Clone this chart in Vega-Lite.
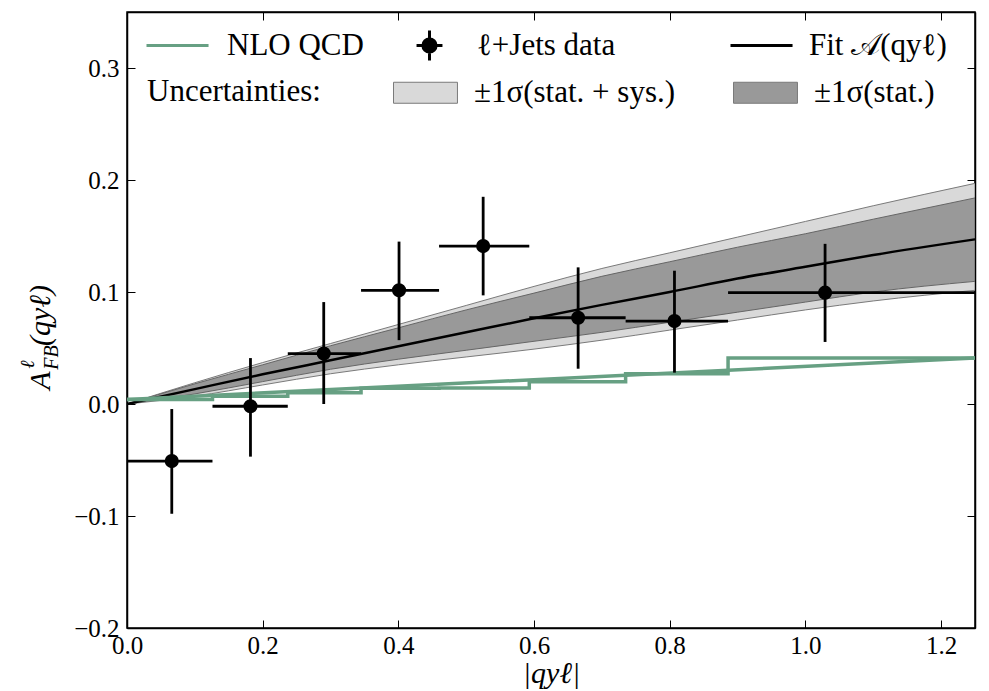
{
  "$schema": "https://vega.github.io/schema/vega-lite/v6.json",
  "width": 848,
  "height": 616,
  "autosize": {"type": "none"},
  "padding": {"left": 127, "top": 12, "right": 14, "bottom": 63},
  "background": "white",
  "config": {
    "view": {"stroke": "black", "strokeWidth": 1.5},
    "font": "Liberation Serif",
    "axis": {
      "labelFont": "Liberation Serif",
      "titleFont": "Liberation Serif",
      "labelColor": "black",
      "titleColor": "black",
      "domainColor": "black",
      "domainWidth": 1.5,
      "tickColor": "black",
      "tickWidth": 1,
      "tickSize": -8,
      "grid": false,
      "labelFlush": false,
      "labelFontSize": 25
    },
    "legend": {
      "labelFont": "Liberation Serif",
      "labelFontSize": 31,
      "labelColor": "black",
      "labelLimit": 600,
      "titleFont": "Liberation Serif",
      "titleFontSize": 31,
      "titleFontWeight": "normal",
      "titleColor": "black",
      "symbolSize": 576,
      "symbolOpacity": 1,
      "orient": "none"
    }
  },
  "datasets": {
    "bands": [
      {"x": 0, "olo": 0, "ilo": 0, "fit": 0, "ihi": 0, "ohi": 0},
      {"x": 0.1, "olo": 0.007, "ilo": 0.009, "fit": 0.0133, "ihi": 0.018, "ohi": 0.019},
      {"x": 0.2, "olo": 0.017, "ilo": 0.02, "fit": 0.0265, "ihi": 0.035, "ohi": 0.037},
      {"x": 0.3, "olo": 0.027, "ilo": 0.031, "fit": 0.039, "ihi": 0.052, "ohi": 0.054},
      {"x": 0.4, "olo": 0.035, "ilo": 0.04, "fit": 0.0515, "ihi": 0.068, "ohi": 0.071},
      {"x": 0.5, "olo": 0.042, "ilo": 0.048, "fit": 0.064, "ihi": 0.084, "ohi": 0.088},
      {"x": 0.6, "olo": 0.049, "ilo": 0.056, "fit": 0.0765, "ihi": 0.099, "ohi": 0.105},
      {"x": 0.7, "olo": 0.057, "ilo": 0.064, "fit": 0.0885, "ihi": 0.114, "ohi": 0.121},
      {"x": 0.8, "olo": 0.066, "ilo": 0.073, "fit": 0.1, "ihi": 0.127, "ohi": 0.135},
      {"x": 0.9, "olo": 0.075, "ilo": 0.082, "fit": 0.112, "ihi": 0.14, "ohi": 0.149},
      {"x": 1.0, "olo": 0.084, "ilo": 0.091, "fit": 0.1225, "ihi": 0.152, "ohi": 0.163},
      {"x": 1.1, "olo": 0.092, "ilo": 0.1, "fit": 0.133, "ihi": 0.165, "ohi": 0.177},
      {"x": 1.25, "olo": 0.1015, "ilo": 0.1095, "fit": 0.147, "ihi": 0.184, "ohi": 0.197}
    ],
    "nloStep": [
      {"x": 0, "y": 0.004},
      {"x": 0.126, "y": 0.007},
      {"x": 0.237, "y": 0.01},
      {"x": 0.345, "y": 0.014},
      {"x": 0.46, "y": 0.0143},
      {"x": 0.593, "y": 0.0198},
      {"x": 0.735, "y": 0.027},
      {"x": 0.886, "y": 0.041},
      {"x": 1.25, "y": 0.041}
    ],
    "nloDiag": [
      {"x": 0, "y": 0.004},
      {"x": 1.25, "y": 0.041}
    ],
    "pts": [
      {"x": 0.066, "xlo": 0, "xhi": 0.126, "y": -0.051, "ylo": -0.098, "yhi": -0.0045},
      {"x": 0.182, "xlo": 0.126, "xhi": 0.237, "y": -0.002, "ylo": -0.047, "yhi": 0.041},
      {"x": 0.29, "xlo": 0.237, "xhi": 0.345, "y": 0.045, "ylo": 0.0, "yhi": 0.091},
      {"x": 0.401, "xlo": 0.345, "xhi": 0.46, "y": 0.1015, "ylo": 0.057, "yhi": 0.145},
      {"x": 0.525, "xlo": 0.46, "xhi": 0.593, "y": 0.141, "ylo": 0.097, "yhi": 0.185},
      {"x": 0.665, "xlo": 0.593, "xhi": 0.735, "y": 0.077, "ylo": 0.0315, "yhi": 0.122},
      {"x": 0.807, "xlo": 0.735, "xhi": 0.886, "y": 0.074, "ylo": 0.028, "yhi": 0.119},
      {"x": 1.029, "xlo": 0.886, "xhi": 1.25, "y": 0.0994, "ylo": 0.0554, "yhi": 0.143}
    ],
    "legNlo": [{"item": "NLO QCD"}],
    "legData": [{"item": "ℓ+Jets data"}],
    "legFit": [{"item": "Fit 𝒜(qyℓ)"}],
    "legUnc": [{"item": "±1σ(stat. + sys.)"}, {"item": "±1σ(stat.)"}]
  },
  "resolve": {"axis": {"x": "independent", "y": "independent"}},
  "layer": [
    {
      "data": {"name": "bands"},
      "mark": {"type": "area", "fill": "#d9d9d9", "stroke": "#7a7a7a", "strokeWidth": 1, "interpolate": "monotone", "clip": true},
      "encoding": {
        "x": {"field": "x", "type": "quantitative", "scale": {"domain": [0, 1.25], "nice": false, "zero": false},
          "axis": {"orient": "bottom", "values": [0, 0.2, 0.4, 0.6, 0.8, 1.0, 1.2], "format": ".1f", "labelPadding": 13,
            "title": "|qyℓ|", "titleFontSize": 30, "titleFontStyle": "italic", "titleFontWeight": "normal", "titlePadding": 0}},
        "y": {"field": "olo", "type": "quantitative", "scale": {"domain": [-0.2, 0.35], "nice": false, "zero": false},
          "axis": {"orient": "left", "values": [-0.2, -0.1, 0, 0.1, 0.2, 0.3], "format": ".1f", "labelPadding": 16,
            "title": "A", "titleFontSize": 30, "titleFontStyle": "italic", "titleFontWeight": "normal",
            "titleAngle": -90, "titleAlign": "center", "titleBaseline": "middle", "titleX": -87, "titleY": 368}},
        "y2": {"field": "ohi"}
      }
    },
    {
      "data": {"name": "bands"},
      "mark": {"type": "area", "fill": "#999999", "stroke": "#666666", "strokeWidth": 1, "interpolate": "monotone", "clip": true},
      "encoding": {
        "x": {"field": "x", "type": "quantitative",
          "axis": {"orient": "top", "values": [0, 0.2, 0.4, 0.6, 0.8, 1.0, 1.2], "labels": false, "title": null}},
        "y": {"field": "ilo", "type": "quantitative",
          "axis": {"orient": "right", "values": [-0.2, -0.1, 0, 0.1, 0.2, 0.3], "labels": false, "title": null}},
        "y2": {"field": "ihi"}
      }
    },
    {
      "data": {"name": "bands"},
      "mark": {"type": "line", "color": "black", "strokeWidth": 2.5, "interpolate": "monotone", "clip": true},
      "encoding": {
        "x": {"field": "x", "type": "quantitative", "axis": null},
        "y": {"field": "fit", "type": "quantitative",
          "axis": {"orient": "left", "labels": false, "ticks": false, "domain": false, "title": "ℓ",
            "titleFontSize": 20, "titleFontStyle": "italic", "titleFontWeight": "normal",
            "titleAngle": -90, "titleAlign": "center", "titleBaseline": "middle", "titleX": -100, "titleY": 352}}
      }
    },
    {
      "data": {"name": "nloStep"},
      "mark": {"type": "line", "color": "#67a083", "strokeWidth": 3.5, "interpolate": "step-after", "clip": true},
      "encoding": {
        "x": {"field": "x", "type": "quantitative", "axis": null},
        "y": {"field": "y", "type": "quantitative",
          "axis": {"orient": "left", "labels": false, "ticks": false, "domain": false, "title": "FB",
            "titleFontSize": 20, "titleFontStyle": "italic", "titleFontWeight": "normal",
            "titleAngle": -90, "titleAlign": "center", "titleBaseline": "middle", "titleX": -76, "titleY": 345}}
      }
    },
    {
      "data": {"name": "nloDiag"},
      "mark": {"type": "line", "color": "#67a083", "strokeWidth": 3.5, "clip": true},
      "encoding": {
        "x": {"field": "x", "type": "quantitative", "axis": null},
        "y": {"field": "y", "type": "quantitative",
          "axis": {"orient": "left", "labels": false, "ticks": false, "domain": false, "title": "(qyℓ)",
            "titleFontSize": 30, "titleFontStyle": "italic", "titleFontWeight": "normal",
            "titleAngle": -90, "titleAlign": "center", "titleBaseline": "middle", "titleX": -87, "titleY": 303}}
      }
    },
    {
      "data": {"name": "pts"},
      "mark": {"type": "rule", "color": "black", "strokeWidth": 2.8},
      "encoding": {
        "x": {"field": "xlo", "type": "quantitative", "axis": null},
        "x2": {"field": "xhi"},
        "y": {"field": "y", "type": "quantitative", "axis": null}
      }
    },
    {
      "data": {"name": "pts"},
      "mark": {"type": "rule", "color": "black", "strokeWidth": 2.8},
      "encoding": {
        "x": {"field": "x", "type": "quantitative", "axis": null},
        "y": {"field": "ylo", "type": "quantitative", "axis": null},
        "y2": {"field": "yhi"}
      }
    },
    {
      "data": {"name": "pts"},
      "mark": {"type": "point", "shape": "circle", "filled": true, "color": "black", "size": 200, "opacity": 1},
      "encoding": {
        "x": {"field": "x", "type": "quantitative", "axis": null},
        "y": {"field": "y", "type": "quantitative", "axis": null}
      }
    },
    {
      "data": {"name": "legNlo"},
      "mark": {"type": "point", "opacity": 0, "filled": false, "shape": "M-1,0H4.17", "strokeWidth": 3},
      "encoding": {
        "stroke": {"field": "item", "type": "nominal",
          "scale": {"domain": ["NLO QCD"], "range": ["#67a083"]},
          "legend": {"title": null, "legendX": 16, "legendY": 18, "labelOffset": 53, "symbolStrokeWidth": 3}}
      }
    },
    {
      "data": {"name": "legData"},
      "mark": {"type": "point", "opacity": 0, "filled": true,
        "shape": "M2,-1.25V1.25M0.92,0H3.08M1.45,0A0.55,0.55 0 1,0 2.55,0A0.55,0.55 0 1,0 1.45,0Z",
        "stroke": "#000000", "strokeWidth": 3},
      "encoding": {
        "fill": {"field": "item", "type": "nominal",
          "scale": {"domain": ["ℓ+Jets data"], "range": ["#000000"]},
          "legend": {"title": null, "legendX": 263, "legendY": 18, "labelOffset": 56, "symbolStrokeWidth": 3, "symbolStrokeColor": "#000000"}}
      }
    },
    {
      "data": {"name": "legFit"},
      "mark": {"type": "point", "opacity": 0, "filled": false, "stroke": "#000000", "strokeWidth": 3},
      "encoding": {
        "shape": {"field": "item", "type": "nominal",
          "scale": {"domain": ["Fit 𝒜(qyℓ)"], "range": ["M-1,0H4.17"]},
          "legend": {"title": null, "legendX": 600, "legendY": 18, "labelOffset": 51, "symbolStrokeWidth": 3, "symbolStrokeColor": "#000000"}}
      }
    },
    {
      "data": {"name": "legUnc"},
      "mark": {"type": "point", "opacity": 0, "filled": true, "shape": "M-1,-0.875H4.33V0.875H-1Z",
        "stroke": "#7a7a7a", "strokeWidth": 1},
      "encoding": {
        "color": {"field": "item", "type": "nominal",
          "scale": {"domain": ["±1σ(stat. + sys.)", "±1σ(stat.)"], "range": ["#d9d9d9", "#999999"]},
          "legend": {"title": "Uncertainties:", "titleOrient": "left", "titlePadding": 69, "titleBaseline": "middle",
            "legendX": 20, "legendY": 65, "columns": 2, "columnPadding": 54, "labelOffset": 53,
            "symbolStrokeWidth": 1, "symbolStrokeColor": "#7a7a7a"}}
      }
    }
  ]
}
